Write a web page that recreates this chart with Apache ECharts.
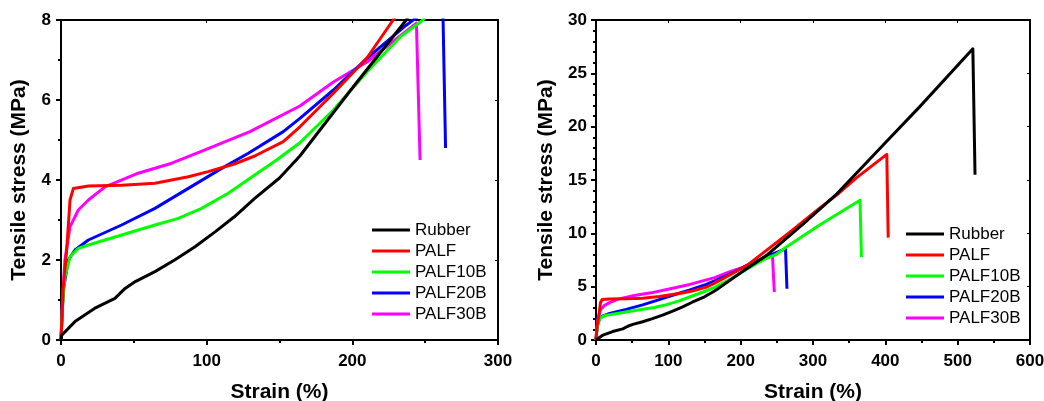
<!DOCTYPE html>
<html>
<head>
    <meta charset="utf-8" />
    <title>Tensile stress vs strain</title>
    <script src="https://cdn.jsdelivr.net/npm/echarts@6/dist/echarts.min.js"></script>
    <style>
        body { margin: 0; background: #ffffff; }
    </style>
</head>
<body>
<div id="main" style="width: 1044px;height:401px;"></div>

<script type="text/javascript">
    // strain (%), stress (MPa) pairs
    var rubber = [[0, 0], [0.5, 0.12], [9.6, 0.46], [23, 0.79], [37, 1.04], [44, 1.29], [51, 1.46],
        [64.5, 1.71], [78, 2.0], [92, 2.33], [106, 2.71], [119, 3.08], [133, 3.54], [150, 4.05],
        [164, 4.6], [200, 6.3], [237, 8.0], [287, 10.9], [333, 13.7], [379, 17.0],
        [400, 18.5], [448, 21.9], [521, 27.3], [524, 15.5]];
    var palf = [[0, 0], [1.5, 1.3], [3.9, 2.25], [6.2, 3.5], [8.5, 3.79], [18.8, 3.85], [41.6, 3.87],
        [64.5, 3.92], [87.4, 4.08], [101, 4.21], [119, 4.4], [133, 4.6], [152.6, 4.96], [164, 5.33],
        [187, 6.17], [210, 7.05], [228, 8.0], [268, 10.1], [310, 12.4], [333, 13.6], [360, 15.2],
        [402, 17.4], [404, 9.6]];
    var palf10b = [[0, 0], [0.9, 0.75], [2.7, 1.58], [6.2, 2.08], [11.9, 2.29], [18.8, 2.375],
        [41.6, 2.625], [64.5, 2.875], [80.5, 3.04], [96.5, 3.29], [114.8, 3.67], [133, 4.125],
        [148, 4.5], [164, 4.93], [187, 5.75], [210, 6.7], [233, 7.58], [248.5, 8.0], [263.6, 8.75],
        [309.7, 10.8], [365, 13.1], [367, 7.75]];
    var palf20b = [[0, 0], [1.6, 1.25], [5, 2.0], [9.6, 2.25], [18.8, 2.5], [41.6, 2.875],
        [64.5, 3.29], [87.4, 3.79], [110.3, 4.29], [128.6, 4.67], [152.6, 5.21], [164, 5.54],
        [187, 6.25], [210, 7.04], [237, 7.87], [262, 8.55], [264, 4.8]];
    var palf30b = [[0, 0], [0.9, 0.92], [2.7, 2.0], [6.2, 2.83], [11.9, 3.25], [18.8, 3.5],
        [30.2, 3.83], [53, 4.17], [76, 4.42], [98, 4.74], [129.7, 5.21], [164, 5.85], [187, 6.45],
        [210, 6.95], [244, 7.92], [246.5, 4.5]];

    var seriesNames = ['Rubber', 'PALF', 'PALF10B', 'PALF20B', 'PALF30B'];
    var seriesData = [rubber, palf, palf10b, palf20b, palf30b];
    var seriesColors = ['#000000', '#ff0000', '#00ff00', '#0000ff', '#ff00ff'];

    var leftXTicks = {min: 0, max: 300, interval: 100};
    var leftYTicks = {min: 0, max: 8, interval: 2};
    var rightXTicks = {min: 0, max: 600, interval: 100};
    var rightYTicks = {min: 0, max: 30, interval: 5};

    var fontFam = "'Liberation Sans', Arial, sans-serif";

    function mainAxis(t, pos, gridIdx, name, nameGap, minorSplit, labelMargin) {
        return {
            type: 'value', gridIndex: gridIdx, position: pos,
            min: t.min, max: t.max, interval: t.interval,
            name: name, nameLocation: 'middle', nameGap: nameGap,
            nameTextStyle: {fontFamily: fontFam, fontWeight: 'bold', fontSize: 21, color: '#000'},
            axisLine: {show: true, onZero: false, lineStyle: {color: '#000', width: 2}},
            axisTick: {show: true, inside: false, length: 5, lineStyle: {color: '#000', width: 2}},
            minorTick: {show: true, splitNumber: minorSplit, length: 3, lineStyle: {color: '#000', width: 2}},
            axisLabel: {fontFamily: fontFam, fontWeight: 'bold', fontSize: 17, color: '#000', margin: labelMargin},
            splitLine: {show: false}
        };
    }

    function mirrorAxis(t, pos, gridIdx) {
        return {
            type: 'value', gridIndex: gridIdx, position: pos,
            min: t.min, max: t.max, interval: t.interval,
            axisLine: {show: true, onZero: false, lineStyle: {color: '#000', width: 2}},
            axisTick: {show: true, inside: true, length: 3, lineStyle: {color: '#000', width: 1}},
            axisLabel: {show: false},
            splitLine: {show: false}
        };
    }

    var series = [];
    [0, 1].forEach(function (g) {
        seriesNames.forEach(function (n, i) {
            series.push({
                name: n,
                type: 'line',
                xAxisIndex: g * 2,
                yAxisIndex: g * 2,
                data: seriesData[i],
                showSymbol: false,
                clip: true,
                lineStyle: {color: seriesColors[i], width: 3, join: 'round'},
                itemStyle: {color: seriesColors[i]},
                z: 10 - i
            });
        });
    });

    function legendAt(left, top) {
        return {
            data: seriesNames,
            orient: 'vertical',
            left: left, top: top,
            icon: 'rect',
            itemWidth: 38, itemHeight: 3, itemGap: 3,
            textStyle: {fontFamily: fontFam, fontSize: 17, color: '#000', lineHeight: 18}
        };
    }

    var myChart = echarts.init(document.getElementById('main'));
    var option = {
        backgroundColor: '#ffffff',
        animation: false,
        grid: [
            {left: 61, top: 20, width: 437, height: 320, containLabel: false, outerBoundsMode: 'none'},
            {left: 596, top: 20, width: 434, height: 320, containLabel: false, outerBoundsMode: 'none'}
        ],
        legend: [legendAt(367, 216), legendAt(901, 220)],
        xAxis: [
            mainAxis(leftXTicks, 'bottom', 0, 'Strain (%)', 42, 2, 13),
            mirrorAxis(leftXTicks, 'top', 0),
            mainAxis(rightXTicks, 'bottom', 1, 'Strain (%)', 42, 2, 13),
            mirrorAxis(rightXTicks, 'top', 1)
        ],
        yAxis: [
            mainAxis(leftYTicks, 'left', 0, 'Tensile stress (MPa)', 31, 2, 10),
            mirrorAxis(leftYTicks, 'right', 0),
            mainAxis(rightYTicks, 'left', 1, 'Tensile stress (MPa)', 39, 5, 9),
            mirrorAxis(rightYTicks, 'right', 1)
        ],
        series: series
    };
    myChart.setOption(option);
</script>
</body>
</html>
